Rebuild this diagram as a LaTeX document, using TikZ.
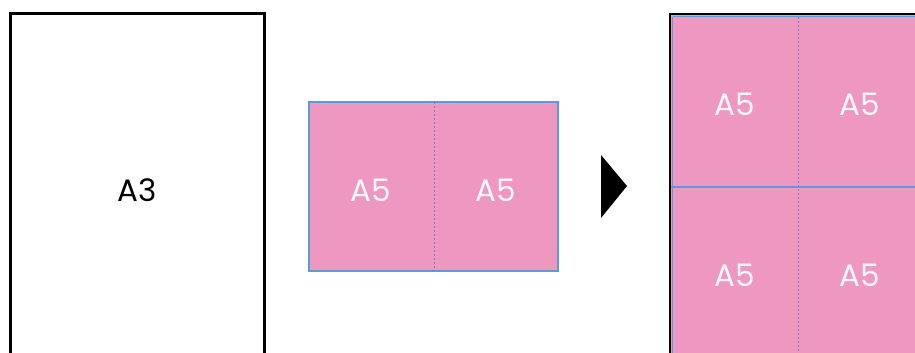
\documentclass[tikz,border=0pt]{standalone}
\usepackage{fontspec}
\setmainfont{Poppins}
\definecolor{sheetpink}{HTML}{EE97C0}
\definecolor{edgeblue}{HTML}{5F9AD6}
\definecolor{foldblue}{HTML}{7A7FC0}
\begin{document}
\begin{tikzpicture}[x=1pt,y=-1pt,
  lbl/.style={font=\fontsize{31}{31}\selectfont, inner sep=0pt, anchor=center},
  palelbl/.style={lbl, text=white!92!sheetpink},
  fold/.style={foldblue, line width=1pt, dash pattern=on 2pt off 2pt},
  sheet/.style={fill=sheetpink, draw=edgeblue, line width=1.4pt}]
\useasboundingbox (0,0) rectangle (915,353);
\clip (0,0) rectangle (915,353);
\fill[white] (0,0) rectangle (915,353);
% A3 sheet
\draw[black, line width=3pt] (10,14) rectangle (264,370);
\node[lbl] (a3) at (137,190) {A3};
% A5 pair
\draw[sheet] (309,102) rectangle (558,271);
\draw[fold] (434,102) -- (434,271);
\node[palelbl] (m1) at (371,190) {A5};
\node[palelbl] (m2) at (496,190) {A5};
% arrow triangle
\fill[black] (601,155) -- (627,186) -- (601,218) -- cycle;
% imposed sheet
\fill[sheetpink] (670,14) rectangle (930,370);
\draw[edgeblue, line width=1.2pt] (672.8,16.8) -- (930,16.8);
\draw[edgeblue, line width=1.2pt] (672.8,16.8) -- (672.8,370);
\draw[black, line width=2.4pt] (670,370) -- (670,14) -- (930,14);
\draw[edgeblue, line width=2pt] (671,187) -- (930,187);
\draw[fold] (798,17) -- (798,370);
\node[palelbl] (r1) at (735,104) {A5};
\node[palelbl] (r2) at (860,104) {A5};
\node[palelbl] (r3) at (735,275) {A5};
\node[palelbl] (r4) at (860,275) {A5};
\end{tikzpicture}
\end{document}
